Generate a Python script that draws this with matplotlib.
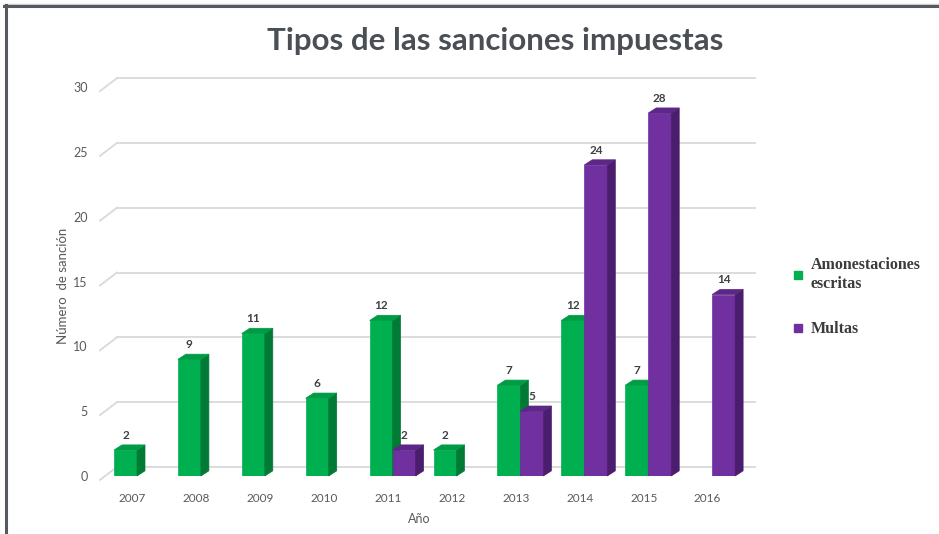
import numpy as np
import matplotlib
matplotlib.use('Agg')
import matplotlib.pyplot as plt
from matplotlib.patches import Polygon
from matplotlib.lines import Line2D

# datos
anios = ['2007', '2008', '2009', '2010', '2011', '2012', '2013', '2014', '2015', '2016']
amonestaciones = [2, 9, 11, 6, 12, 2, 7, 12, 7, None]
multas = [None, None, None, None, 2, None, 5, 24, 28, 14]
series_nombres = ['Amonestaciones\nescritas', 'Multas']
yticks = [0, 5, 10, 15, 20, 25, 30]

# colores (frente, lado, tapa)
verde = ('#00b050', '#007a35', '#009c45')
morado = ('#7030a0', '#4a1e6c', '#5d2787')

fig = plt.figure(figsize=(9.39, 5.34), dpi=100)
ax = fig.add_axes([100/939, (534-476)/534, 638/939, 388.8/534])
ax.set_xlim(-0.579, 9.405)
ax.set_ylim(0, 30)
for s in ax.spines.values():
    s.set_visible(False)

ancho = 0.36
dx, dy = 0.125, 0.4      # profundidad de las barras
gx, gy0, gy1 = 0.266, -0.3, 0.7   # pared del fondo

# rejilla con perspectiva
xl, xr = ax.get_xlim()
for v in yticks:
    ax.plot([xl, xl + gx], [v + gy0, v + gy1], color='#d9d9d9', lw=1.3, clip_on=False, zorder=0)
    ax.plot([xl + gx, xr + gx], [v + gy1, v + gy1], color='#d9d9d9', lw=1.3, clip_on=False, zorder=0)


def barra3d(x, v, cols, z):
    ax.bar(x, v, width=ancho, align='edge', color=cols[0], edgecolor=cols[0], lw=0.5, zorder=z)
    lado = Polygon([(x + ancho, 0), (x + ancho + dx, dy), (x + ancho + dx, v + dy), (x + ancho, v)],
                   closed=True, facecolor=cols[1], edgecolor=cols[1], lw=0.5, zorder=z, clip_on=False)
    tapa = Polygon([(x, v), (x + dx, v + dy), (x + ancho + dx, v + dy), (x + ancho, v)],
                   closed=True, facecolor=cols[2], edgecolor=cols[2], lw=0.5, zorder=z, clip_on=False)
    ax.add_patch(lado)
    ax.add_patch(tapa)
    ax.text(x + ancho / 2, v + 1.15, str(v), ha='center', va='center', fontsize=8.5,
            fontweight='bold', color='#404040', family='Lato', zorder=10)


for i in range(len(anios)):
    z = 2 + i * 2
    if amonestaciones[i] is not None:
        barra3d(i - ancho, amonestaciones[i], verde, z)
    if multas[i] is not None:
        barra3d(i, multas[i], morado, z + 1)

ax.set_xticks(np.arange(len(anios)) - 0.07)
ax.set_xticklabels(anios, family='Lato', fontsize=8.5, color='#595959')
ax.set_yticks(yticks)
ax.set_yticklabels([str(t) for t in yticks], family='Lato', fontsize=9, color='#595959')
ax.tick_params(axis='both', length=0)
ax.tick_params(axis='x', pad=12)
ax.tick_params(axis='y', pad=9)

ax.set_xlabel('Año', family='Lato', fontsize=9, color='#595959')
ax.xaxis.set_label_coords(0.5, -0.095)
ax.set_ylabel('Número  de sanción', family='Lato', fontsize=9.5, color='#595959')
ax.yaxis.set_label_coords(-0.048, 0.49)

fig.text(495/939, 1 - 41/534, 'Tipos de las sanciones impuestas', ha='center', va='center',
         fontsize=22.5, fontweight='bold', color='#4a4f55', family='Lato')

handles = [Line2D([], [], ls='none', marker='s', markersize=6, color=verde[0]),
           Line2D([], [], ls='none', marker='s', markersize=6, color=morado[0])]
fig.legend(handles, series_nombres, loc='upper left', bbox_to_anchor=(777/939, 1 - 243/534),
           frameon=False, prop={'family': 'Liberation Serif', 'weight': 'bold', 'size': 11.5},
           labelcolor='#3b3b3b', handlelength=0.8, handletextpad=0.4, labelspacing=1.85)

# marco
fig.add_artist(Line2D([4/939, 1], [1 - 4/534, 1 - 4/534], color='#d0d0d0', lw=1, transform=fig.transFigure))
fig.add_artist(Line2D([4/939, 1], [1 - 6/534, 1 - 6/534], color='#555a60', lw=2.2, transform=fig.transFigure))
fig.add_artist(Line2D([5.5/939, 5.5/939], [0, 1 - 5/534], color='#555a60', lw=2.2, transform=fig.transFigure))

fig.savefig('out.png', dpi=100)
